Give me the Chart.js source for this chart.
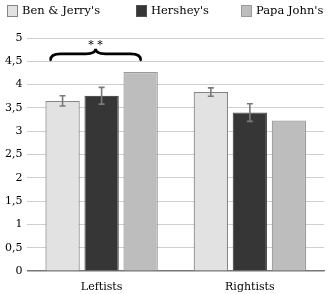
<!DOCTYPE html>
<html>
<head>
<meta charset="utf-8">
<script src="https://cdn.jsdelivr.net/npm/chart.js@4"></script>
<style>
  html, body { margin: 0; padding: 0; background: #fff; }
  #wrap { width: 335px; height: 294px; }
</style>
</head>
<body>
<div id="wrap"><canvas id="chart" width="335" height="294"></canvas></div>
<script>
// data
const groups = ['Leftists', 'Rightists'];
const brands = ["Ben & Jerry's", "Hershey's", "Papa John's"];
const benJerry = [3.65, 3.84];
const hershey = [3.76, 3.40];
const papaJohn = [4.27, 3.23];
// half-widths of error bars (null = no bar)
const benJerryErr = [0.11, 0.09];
const hersheyErr = [0.18, 0.19];
const papaJohnErr = [null, null];

const serif = '"DejaVu Serif", "Liberation Serif", serif';
const fills = ['#e2e2e2', '#363636', '#bdbdbd'];
const borders = ['#858585', '#505050', '#9a9a9a'];
const errs = [benJerryErr, hersheyErr, papaJohnErr];

// legend x spots for the three entries, as in the picture
const legendX = [7, 136, 241];

const extras = {
  id: 'extras',
  afterDraw(chart) {
    const ctx = chart.ctx;
    ctx.save();
    ctx.font = '11.5px ' + serif;
    ctx.textBaseline = 'middle';
    ctx.textAlign = 'left';
    chart.data.datasets.forEach((ds, i) => {
      const x = legendX[i];
      ctx.fillStyle = ds.backgroundColor;
      ctx.strokeStyle = ds.borderColor;
      ctx.lineWidth = 1;
      ctx.fillRect(x + 0.5, 5.5, 10, 11);
      ctx.strokeRect(x + 0.5, 5.5, 10, 11);
      ctx.fillStyle = '#000';
      ctx.fillText(ds.label, x + 15, 11.5);
    });
    ctx.restore();
  },
  afterDatasetsDraw(chart) {
    const ctx = chart.ctx;
    const y = chart.scales.y;
    ctx.save();
    ctx.strokeStyle = '#7a7a7a';
    ctx.lineWidth = 1.6;
    errs.forEach((e, di) => {
      const meta = chart.getDatasetMeta(di);
      meta.data.forEach((bar, i) => {
        if (e[i] == null) return;
        const v = chart.data.datasets[di].data[i];
        const top = y.getPixelForValue(v + e[i]);
        const bot = y.getPixelForValue(v - e[i]);
        ctx.beginPath();
        ctx.moveTo(bar.x, top); ctx.lineTo(bar.x, bot);
        ctx.moveTo(bar.x - 3, top); ctx.lineTo(bar.x + 3, top);
        ctx.moveTo(bar.x - 3, bot); ctx.lineTo(bar.x + 3, bot);
        ctx.stroke();
      });
    });

    // brace over the Leftists group
    const b0 = chart.getDatasetMeta(0).data[0];
    const b2 = chart.getDatasetMeta(2).data[0];
    const x1 = b0.x - 12, x2 = b2.x;
    const mid = (x1 + x2) / 2;
    const yb = y.getPixelForValue(4.66);
    ctx.strokeStyle = '#000';
    ctx.lineWidth = 2.6;
    ctx.lineCap = 'round';
    ctx.beginPath();
    ctx.moveTo(x1, yb + 6);
    ctx.quadraticCurveTo(x1, yb, x1 + 10, yb);
    ctx.lineTo(mid - 10, yb);
    ctx.quadraticCurveTo(mid, yb, mid, yb - 5);
    ctx.quadraticCurveTo(mid, yb, mid + 10, yb);
    ctx.lineTo(x2 - 10, yb);
    ctx.quadraticCurveTo(x2, yb, x2, yb + 6);
    ctx.stroke();
    ctx.fillStyle = '#000';
    ctx.font = '11px ' + serif;
    ctx.textAlign = 'center';
    ctx.textBaseline = 'middle';
    ctx.fillText('* *', mid, yb - 9);
    ctx.restore();
  }
};

new Chart(document.getElementById('chart').getContext('2d'), {
  type: 'bar',
  data: {
    labels: groups,
    datasets: brands.map((b, i) => ({
      label: b,
      data: [benJerry, hershey, papaJohn][i],
      backgroundColor: fills[i],
      borderColor: borders[i],
      borderWidth: 1.2
    }))
  },
  options: {
    responsive: false,
    animation: false,
    layout: { padding: { left: 0, right: 11, top: 38, bottom: 0 } },
    datasets: { bar: { categoryPercentage: 0.79, barPercentage: 0.88 } },
    plugins: {
      tooltip: { enabled: false },
      legend: { display: false }
    },
    scales: {
      x: {
        grid: { display: false },
        border: { color: '#777', width: 1.3 },
        ticks: { color: '#000', font: { family: serif, size: 11 }, padding: 2 },
        afterFit: s => { s.height = 23; }
      },
      y: {
        min: 0, max: 5,
        border: { display: false },
        grid: { color: '#cfcfcf', lineWidth: 1, drawTicks: false },
        ticks: {
          stepSize: 0.5, color: '#000', padding: 5,
          font: { family: serif, size: 11 },
          callback: v => String(v).replace('.', ',')
        }
      }
    }
  },
  plugins: [extras]
});
</script>
</body>
</html>
